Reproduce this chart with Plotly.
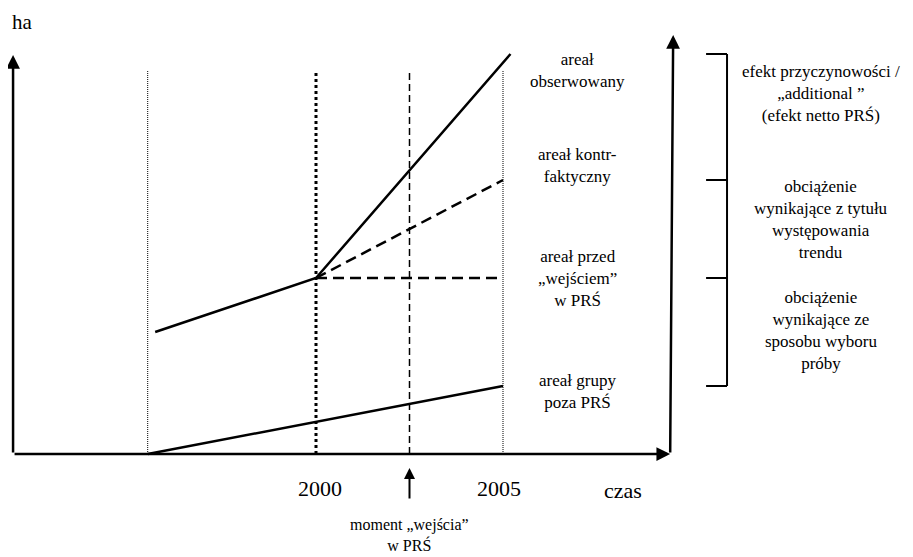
import plotly.graph_objects as go

# ---------------- data ----------------
years_observed = [1995.7, 2000, 2005.2]
ha_observed = [122, 176, 400]

years_counterfactual = [2000, 2005]
ha_counterfactual = [176, 274]

years_pre_entry = [2000, 2005]
ha_pre_entry = [176, 176]

years_outside = [1995.5, 2005]
ha_outside = [0, 68]

marker_years = [1995.5, 2000, 2002.5, 2005]
marker_top = 384

tick_years = [2000, 2005]
tick_labels = ["2000", "2005"]

entry_year = 2002.5

bracket_levels = [400, 274, 176, 68]

series_labels = [
    "areał<br>obserwowany",
    "areał kontr-<br>faktyczny",
    "areał przed<br>„wejściem”<br>w PRŚ",
    "areał grupy<br>poza PRŚ",
]
series_label_ha = [384, 289, 176, 63]

bracket_labels = [
    "efekt przyczynowości /<br>„additional ”<br>(efekt netto PRŚ)",
    "obciążenie<br>wynikające z tytułu<br>występowania<br>trendu",
    "obciążenie<br>wynikające ze<br>sposobu wyboru<br>próby",
]
bracket_label_ha = [361, 235, 124]

# axis geometry (in data units)
axis_x0 = 1991.9
axis_x1 = 2009.47
axis_y_top = 399
right_arrow_x_top = 2009.55
right_arrow_y_top = 419
bracket_x = 2010.99
bracket_tick_x = 2010.43
series_label_x = 2007.0
bracket_label_x = 2013.5

FONT = "Liberation Serif"
BLACK = "black"

# page has an 8px body margin: figure is shrunk and ranges shifted accordingly
PX_PER_YEAR = 37.4
OFF = 8
W, H = 913 - OFF, 557 - OFF
x_lo = 2000 - (316 - OFF) / PX_PER_YEAR
x_hi = 2000 + (913 - 316) / PX_PER_YEAR
y_hi = 454 - OFF
y_lo = 454 - 557

fig = go.Figure()

v_styles = [
    dict(width=1, dash="1px,1px"),
    dict(width=3, dash="dot"),
    dict(width=1.5, dash="7px,4px"),
    dict(width=1, dash="1px,1px"),
]
for yr, st in zip(marker_years, v_styles):
    fig.add_trace(go.Scatter(x=[yr, yr], y=[0, marker_top], mode="lines",
                             line=dict(color=BLACK, **st), hoverinfo="skip"))

fig.add_trace(go.Scatter(x=years_observed, y=ha_observed, mode="lines",
                         line=dict(color=BLACK, width=2.5), hoverinfo="skip"))
fig.add_trace(go.Scatter(x=years_counterfactual, y=ha_counterfactual, mode="lines",
                         line=dict(color=BLACK, width=2.5, dash="11px,6px"), hoverinfo="skip"))
fig.add_trace(go.Scatter(x=years_pre_entry, y=ha_pre_entry, mode="lines",
                         line=dict(color=BLACK, width=2.5, dash="11px,6px"), hoverinfo="skip"))
fig.add_trace(go.Scatter(x=years_outside, y=ha_outside, mode="lines",
                         line=dict(color=BLACK, width=2.5), hoverinfo="skip"))

fig.add_trace(go.Scatter(x=[bracket_x, bracket_x],
                         y=[bracket_levels[0], bracket_levels[-1]], mode="lines",
                         line=dict(color=BLACK, width=2), hoverinfo="skip"))
for lv in bracket_levels:
    fig.add_trace(go.Scatter(x=[bracket_tick_x, bracket_x], y=[lv, lv], mode="lines",
                             line=dict(color=BLACK, width=2), hoverinfo="skip"))


def arrow(x0, y0, x1, y1, width=2.5):
    fig.add_annotation(x=x1, y=y1, ax=x0, ay=y0, xref="x", yref="y",
                       axref="x", ayref="y", text="", showarrow=True,
                       arrowhead=2, arrowsize=1.1, arrowwidth=width,
                       arrowcolor=BLACK, standoff=0, startstandoff=0)


arrow(axis_x0, 0, axis_x0, axis_y_top)
arrow(axis_x0, 0, axis_x1, 0)
arrow(axis_x1, 0, right_arrow_x_top, right_arrow_y_top)
arrow(entry_year, -46, entry_year, -14, width=2)

for txt, hv in zip(series_labels, series_label_ha):
    fig.add_annotation(x=series_label_x, y=hv, text=txt, showarrow=False,
                       font=dict(family=FONT, size=17, color=BLACK), align="center")
for txt, hv in zip(bracket_labels, bracket_label_ha):
    fig.add_annotation(x=bracket_label_x, y=hv, text=txt, showarrow=False,
                       font=dict(family=FONT, size=17, color=BLACK), align="center")
for yr, lab, dx in zip(tick_years, tick_labels, [0.1, -0.1]):
    fig.add_annotation(x=yr + dx, y=-34, text=lab,
                       showarrow=False, font=dict(family=FONT, size=22, color=BLACK))
fig.add_annotation(x=2008.2, y=-36, text="czas", showarrow=False,
                   font=dict(family=FONT, size=22, color=BLACK))
fig.add_annotation(x=1992.14, y=432, text="ha", showarrow=False,
                   font=dict(family=FONT, size=21, color=BLACK))
fig.add_annotation(x=entry_year, y=-81, text="moment „wejścia”<br>w PRŚ",
                   showarrow=False, font=dict(family=FONT, size=16, color=BLACK),
                   align="center")

fig.update_layout(
    width=W, height=H,
    margin=dict(l=0, r=0, t=0, b=0),
    paper_bgcolor="white", plot_bgcolor="white",
    showlegend=False,
    xaxis=dict(visible=False, range=[x_lo, x_hi], fixedrange=True),
    yaxis=dict(visible=False, range=[y_lo, y_hi], fixedrange=True),
)

fig.write_html("out.html")
